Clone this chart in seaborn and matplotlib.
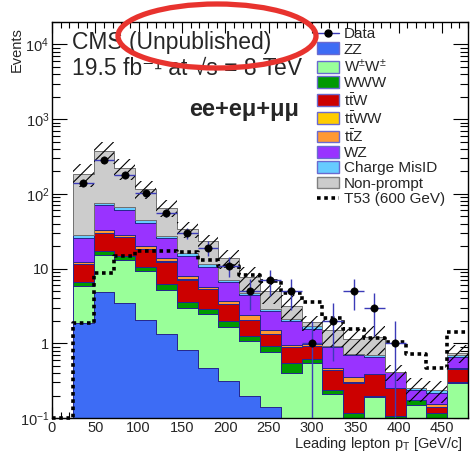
import numpy as np
import pandas as pd
import matplotlib
matplotlib.use('Agg')
import matplotlib.pyplot as plt
import matplotlib.ticker as mticker
from matplotlib.patches import Patch, Ellipse
from matplotlib.lines import Line2D
import seaborn as sns

# Leading lepton pT bins (GeV), 24 GeV wide from 24 to 480
edges = np.arange(24, 481, 24)
centers = (edges[:-1] + edges[1:]) / 2

# Expected yields per process
zz = [1.85, 4.93, 3.49, 2.03, 1.35, 0.81, 0.47, 0.31, 0.2, 0.14, 0, 0, 0, 0, 0, 0, 0, 0, 0]
ww = [4.08, 10.27, 9.71, 7.17, 3.85, 2.15, 2.02, 1.34, 0.86, 0.63, 0.40, 0.54, 0.207, 0.1, 0.19, 0.09, 0.149, 0.1, 0.29]
www = [0.64, 2.0, 1.4, 1.2, 1.05, 0.6, 0.41, 0.32, 0.18, 0.15, 0.14, 0.085, 0.033, 0.015, 0.01, 0.015, 0.025, 0.015, 0.015]
ttw = [4.98, 12.7, 11.6, 7.9, 6.15, 3.51, 2.46, 1.34, 0.79, 0.40, 0.35, 0.295, 0.196, 0.18, 0.186, 0.145, 0, 0.024, 0.145]
ttww = [0.1, 0.3, 0.25, 0.2, 0.15, 0.1, 0.05, 0.04, 0.03, 0.02, 0.01, 0.01, 0.005, 0.005, 0, 0, 0, 0.003, 0.002]
ttz = [0.75, 2.9, 1.95, 1.6, 1.35, 0.73, 0.34, 0.28, 0.3, 0.18, 0.06, 0.04, 0.02, 0.055, 0, 0, 0, 0.013, 0.008]
wz = [13.3, 37.6, 32.8, 20.1, 11.8, 7.0, 4.85, 3.08, 2.14, 1.18, 1.02, 0.58, 0.42, 0.335, 0.26, 0.165, 0.061, 0.062, 0.197]
chmisid = [2.4, 5.9, 5.9, 4.4, 1.8, 1.1, 0.9, 0.36, 0.24, 0.2, 0.15, 0.13, 0.04, 0.04, 0.045, 0, 0.02, 0.019, 0.033]
nonprompt = [159, 297, 157, 73.4, 38.2, 17.8, 12.1, 6.83, 2.92, 2.1, 1.07, 0.22, 0.58, 0.4, 0.51, 0, 0, 0, 0.06]

# total background uncertainty (hatched band)
bkg_unc = [65, 120, 72, 33, 17, 8, 5, 4, 2.7, 1.6, 1.2, 0.45, 0.6, 0.44, 0.5, 0.1, 0.09, 0.075, 0.2]

# observed events
data = [141, 285, 177, 102, 56, 30, 19, 11, 5, 7, 5, 1, 2, 5, 3, 1, 0, 0, 0]

# T53 (600 GeV) signal, first value is the empty 0-24 bin
t53 = [0, 1.85, 8.8, 14.9, 17.4, 17.4, 16.9, 13.2, 11.0, 8.1, 6.9, 4.7, 3.55, 2.2, 1.55, 1.19, 1.04, 0.73, 0.47, 1.41]

procs = {
    'Non-prompt': (nonprompt, '#cccccc'),
    'Charge MisID': (chmisid, '#66ccff'),
    'WZ': (wz, '#9933ff'),
    'ttZ': (ttz, '#ff9933'),
    'ttWW': (ttww, '#ffcc00'),
    'ttW': (ttw, '#cc0000'),
    'WWW': (www, '#009900'),
    'WW': (ww, '#99ff99'),
    'ZZ': (zz, '#3d6cf5'),
}

rows = []
for name, (vals, col) in procs.items():
    for c, v in zip(centers, vals):
        rows.append({'pt': c, 'yield': v, 'process': name})
df = pd.DataFrame(rows)
palette = {k: v[1] for k, v in procs.items()}

sns.set_style('ticks')
plt.rcParams['font.family'] = ['Liberation Sans', 'DejaVu Sans']
plt.rcParams['mathtext.fontset'] = 'custom'
plt.rcParams['mathtext.rm'] = 'Liberation Sans'
plt.rcParams['mathtext.it'] = 'Liberation Sans:italic'
plt.rcParams['mathtext.bf'] = 'Liberation Sans:bold'
plt.rcParams['hatch.linewidth'] = 0.8
plt.rcParams['hatch.color'] = 'black'

fig = plt.figure(figsize=(4.7, 4.53), dpi=100)
ax = fig.add_axes([52/470, 1-418/453, 416/470, 396/453])

# stacked backgrounds (first hue level ends up on top)
sns.histplot(data=df, x='pt', weights='yield', hue='process', hue_order=list(procs.keys()),
             palette=palette, multiple='stack', element='step', bins=list(edges), alpha=1,
             edgecolor='#26268f', linewidth=0.7, legend=False, ax=ax)
for coll in ax.collections:
    fc = coll.get_facecolor()
    if len(fc) and np.allclose(fc[0][:3], matplotlib.colors.to_rgb('#cccccc')):
        coll.set_edgecolor('#707070')

ax.set_yscale('log')

total = np.sum([np.array(v[0]) for v in procs.values()], axis=0)
unc = np.array(bkg_unc)
ax.bar(centers, 2*unc, bottom=total-unc, width=24, fill=False, hatch='///',
       linewidth=0, edgecolor='black', zorder=3)

# signal
ax.step(np.r_[0, edges], np.clip(np.r_[t53, t53[-1]], 0.1, None), where='post',
        color='black', linestyle=(0, (1, 1)), linewidth=2.6, zorder=4, clip_on=False)

# data
d = np.array(data, dtype=float)
m = d > 0
ax.errorbar(centers[m], d[m], xerr=12, yerr=np.sqrt(d[m]), fmt='none',
            ecolor='#3b3bb8', elinewidth=1, capsize=0, zorder=5)
sns.scatterplot(x=centers[m], y=d[m], color='black', s=28, edgecolor='black',
                zorder=6, ax=ax, legend=False)

ax.set_xlim(0, 480)
ax.set_ylim(0.1, 2e4)
ax.set_xlabel('')
ax.set_ylabel('')

ax.xaxis.set_major_locator(mticker.MultipleLocator(50))
ax.xaxis.set_minor_locator(mticker.MultipleLocator(10))
ax.set_yticks([0.1, 1, 10, 100, 1000, 10000])
ax.set_yticklabels([r'$10^{-1}$', '1', '10', r'$10^{2}$', r'$10^{3}$', r'$10^{4}$'])
ax.yaxis.set_minor_locator(mticker.LogLocator(base=10, subs=np.arange(2, 10)))
ax.yaxis.set_minor_formatter(mticker.NullFormatter())
ax.tick_params(axis='both', which='both', direction='in', top=True, right=True,
               labelsize=10.5, color='black', width=0.8)
ax.tick_params(axis='x', which='major', length=8, pad=2)
ax.tick_params(axis='x', which='minor', length=4)
ax.tick_params(axis='y', which='major', length=11, pad=2)
ax.tick_params(axis='y', which='minor', length=6)
for s in ax.spines.values():
    s.set_linewidth(1.0)
    s.set_color('black')

fig.text(17/470, 1-27/453, 'Events', rotation=90, ha='center', va='top', fontsize=10.5)
fig.text(463/470, 1-444/453, r'Leading lepton p$_{\mathrm{T}}$ [GeV/c]', ha='right',
         va='center', fontsize=10.5)

fig.text(72/470, 1-49/453, 'CMS (Unpublished)', fontsize=16.5, va='baseline')
fig.text(72/470, 1-75/453, '19.5 fb\u207b\u00b9 at \u221as = 8 TeV', fontsize=16.5, va='baseline')
fig.text(244/470, 1-116/453, 'ee+e\u03bc+\u03bc\u03bc', fontsize=17, fontweight='bold',
         ha='center', va='baseline')

edge = '#6a6ad0'
handles = [
    Line2D([0], [0], color='#3b3bb8', lw=1, marker='o', mfc='black', mec='black', ms=5),
    Patch(facecolor=palette['ZZ'], edgecolor=edge),
    Patch(facecolor=palette['WW'], edgecolor=edge),
    Patch(facecolor=palette['WWW'], edgecolor=edge),
    Patch(facecolor=palette['ttW'], edgecolor=edge),
    Patch(facecolor=palette['ttWW'], edgecolor=edge),
    Patch(facecolor=palette['ttZ'], edgecolor=edge),
    Patch(facecolor=palette['WZ'], edgecolor=edge),
    Patch(facecolor=palette['Charge MisID'], edgecolor=edge),
    Patch(facecolor=palette['Non-prompt'], edgecolor='#808080'),
    Line2D([0], [0], color='black', lw=2.6, linestyle=(0, (1, 1))),
]
labels = ['Data', 'ZZ', r'W$^{\pm}$W$^{\pm}$', 'WWW', r't$\bar{\mathrm{t}}$W',
          r't$\bar{\mathrm{t}}$WW', r't$\bar{\mathrm{t}}$Z', 'WZ', 'Charge MisID',
          'Non-prompt', 'T53 (600 GeV)']
fig.legend(handles, labels, loc='upper left', bbox_to_anchor=(317/470, 1-27/453),
           frameon=False, fontsize=11, borderpad=0, handlelength=1.45,
           handleheight=0.8, handletextpad=0.3, labelspacing=0.08, borderaxespad=0)

# red ellipse drawn around "(Unpublished)"
fig.patches.append(Ellipse((217/470, 1-36/453), 198/470, 64/453, fill=False,
                           edgecolor='#e8332e', linewidth=3.8, transform=fig.transFigure,
                           figure=fig, zorder=10))

fig.savefig('out.png', dpi=100)
